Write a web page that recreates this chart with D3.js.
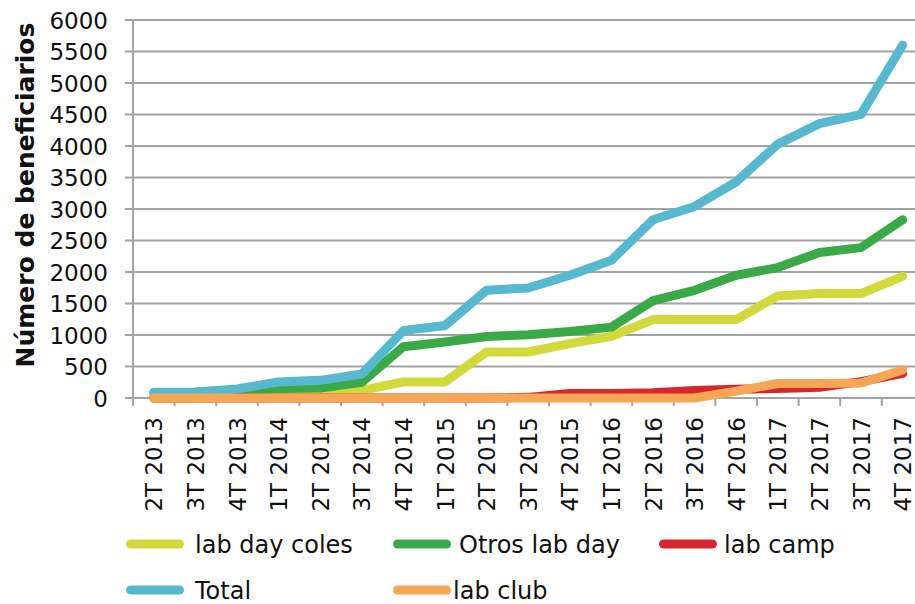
<!DOCTYPE html>
<html><head><meta charset="utf-8">
<script src="https://cdn.jsdelivr.net/npm/d3@7/dist/d3.min.js"></script>
<style>html,body{margin:0;padding:0;background:#fff;overflow:hidden}</style>
</head><body>
<svg id="c" width="915" height="604"></svg>
<script>
const categories = ["2T 2013","3T 2013","4T 2013","1T 2014","2T 2014","3T 2014","4T 2014","1T 2015","2T 2015","3T 2015","4T 2015","1T 2016","2T 2016","3T 2016","4T 2016","1T 2017","2T 2017","3T 2017","4T 2017"];
const labDayColes = [0,0,20,60,80,120,255,255,730,730,863,980,1245,1245,1245,1620,1657,1657,1930];
const otrosLabDay = [85,90,120,150,160,250,815,889,975,1005,1055,1125,1545,1710,1948,2070,2310,2387,2830];
const labCamp = [0,0,0,0,0,0,0,0,0,10,70,70,85,120,140,150,170,260,390];
const total = [90,95,145,255,280,380,1070,1150,1710,1746,1948,2186,2830,3040,3430,4030,4355,4503,5600];
const labClub = [0,0,0,0,0,0,0,0,0,0,0,0,0,0,110,230,230,238,445];
const yTicks = [0,500,1000,1500,2000,2500,3000,3500,4000,4500,5000,5500,6000];
const seriesNames = ["lab day coles","Otros lab day","lab camp","Total","lab club"];
const seriesColors = ["#d1d93b","#3aaa48","#d8262e","#56b9cf","#f7a655"];
const seriesValues = [labDayColes, otrosLabDay, labCamp, total, labClub];

const svg = d3.select("#c");
const font = "'DejaVu Sans', sans-serif";
const grid = "#a3a3a3";

const x = d3.scaleBand().domain(categories).range([133, 923.4]).padding(0);
const y = d3.scaleLinear().domain([0, 6000]).range([398, 20]);

// gridlines
svg.append("g").selectAll("line").data(yTicks).join("line")
  .attr("x1", 125).attr("x2", 915)
  .attr("y1", d => y(d)).attr("y2", d => y(d))
  .attr("stroke", grid).attr("stroke-width", 2);

// y axis line
svg.append("line").attr("x1", 133).attr("x2", 133).attr("y1", y(6000)).attr("y2", 406)
  .attr("stroke", grid).attr("stroke-width", 2);

// x ticks (between categories)
const bounds = categories.map(c => x(c)).concat([x(categories[categories.length-1]) + x.bandwidth()]);
svg.append("g").selectAll("line").data(bounds.slice(1)).join("line")
  .attr("x1", d => d).attr("x2", d => d).attr("y1", 398).attr("y2", 406)
  .attr("stroke", grid).attr("stroke-width", 2);

// y tick labels
svg.append("g").selectAll("text").data(yTicks).join("text")
  .attr("x", 108).attr("y", d => y(d) + 8.5)
  .attr("text-anchor", "end").attr("font-family", font).attr("font-size", 23).attr("fill", "#111")
  .text(d => d);

// x labels
svg.append("g").selectAll("text").data(categories).join("text")
  .attr("transform", d => `translate(${x(d) + x.bandwidth()/2},417) rotate(-90)`)
  .attr("y", 8.5).attr("text-anchor", "end")
  .attr("font-family", font).attr("font-size", 23).attr("fill", "#111")
  .text(d => d);

// y title
svg.append("text").attr("transform", "translate(34,195) rotate(-90)")
  .attr("text-anchor", "middle").attr("font-family", font).attr("font-weight", "bold")
  .attr("font-size", 25).attr("fill", "#111").text("Número de beneficiarios");

// lines
const line = d3.line().x((d, i) => x(categories[i]) + x.bandwidth()/2).y(d => y(d));
svg.append("g").selectAll("path").data(seriesValues).join("path")
  .attr("d", d => line(d)).attr("fill", "none")
  .attr("stroke", (d, i) => seriesColors[i]).attr("stroke-width", 9)
  .attr("stroke-linecap", "round").attr("stroke-linejoin", "round");

// legend
const legendLayout = [
  {lx: 130.5, ly: 544, tx: 195},
  {lx: 397.5, ly: 544, tx: 459},
  {lx: 663.5, ly: 544, tx: 724},
  {lx: 130.5, ly: 590, tx: 195},
  {lx: 397.5, ly: 590, tx: 453}
];
const lg = svg.append("g");
seriesNames.forEach((name, i) => {
  const L = legendLayout[i];
  lg.append("line").attr("x1", L.lx).attr("x2", L.lx + 49).attr("y1", L.ly).attr("y2", L.ly)
    .attr("stroke", seriesColors[i]).attr("stroke-width", 9).attr("stroke-linecap", "round");
  lg.append("text").attr("x", L.tx).attr("y", L.ly + 8.5)
    .attr("font-family", font).attr("font-size", 24).attr("fill", "#111").text(name);
});
</script>
</body></html>
